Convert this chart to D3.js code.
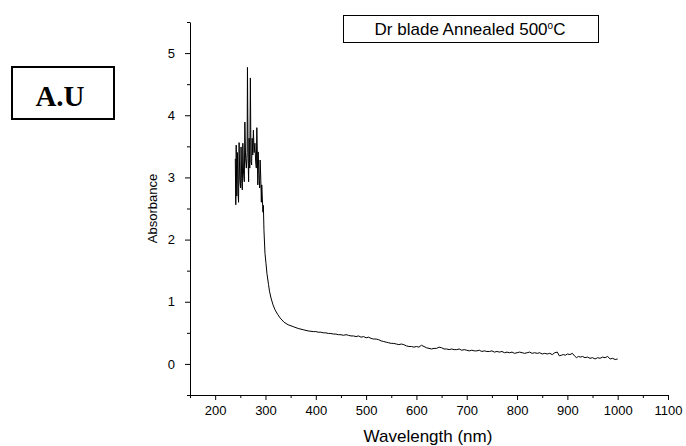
<!DOCTYPE html>
<html>
<head>
<meta charset="utf-8">
<script src="https://cdn.jsdelivr.net/npm/d3@7/dist/d3.min.js"></script>
<style>
  html, body { margin: 0; padding: 0; background: #fff; }
  svg { display: block; }
  text { font-family: "Liberation Sans", Arial, sans-serif; fill: #000; }
</style>
</head>
<body>
<svg id="chart" width="686" height="446"></svg>
<script>
// ---- data ----
const wavelength = [
  240,241,241.8,243,244.3,245.5,246.5,247.6,249,250.5,251.5,253,254,255,256.5,258,259,260.5,262,263.5,
  264.2,265.5,266.5,267.5,268.8,270,271.2,272.5,273.5,274.8,276,277.5,279,280.5,281.8,282.8,284,284.8,285.5,287,
  288.5,289.4,290.8,291.8,292.6,294,295,295.8,297,299,301,303,306,308,311,315,319,324,329,337,
  345,355,365,375,385,395,
  400,405,410,415,420,425,430,435,440,445,450,455,460,465,470,475,480,485,490,495,
  500,505,510,515,520,525,530,535,540,545,550,555,560,565,570,575,580,585,590,595,
  600,605,610,615,620,625,630,635,640,645,650,655,660,665,670,675,680,685,690,695,
  700,705,710,715,720,725,730,735,740,745,750,755,760,765,770,775,780,785,790,795,
  800,805,810,815,820,825,830,835,840,845,850,855,860,865,870,875,880,884,888,892,
  896,900,905,910,914,918,922,926,930,935,940,945,950,955,960,965,970,975,980,985,
  990,995,1000
];
const absorbance = [
  3.30,2.56,3.52,2.70,3.40,2.75,2.60,3.56,2.95,2.83,3.49,2.90,2.80,3.55,3.05,2.93,3.89,3.30,3.15,3.40,
  4.77,3.30,2.93,3.63,3.15,4.60,3.25,3.20,3.63,3.36,3.76,3.40,3.55,3.25,3.15,3.80,3.30,2.88,3.41,3.05,
  2.83,3.28,2.95,2.60,2.88,2.62,2.44,2.55,2.15,1.78,1.62,1.45,1.28,1.17,1.06,0.95,0.87,0.80,0.74,0.67,
  0.63,0.60,0.57,0.55,0.53,0.52,
  0.52,0.51,0.51,0.50,0.50,0.49,0.49,0.48,0.48,0.47,0.47,0.46,0.47,0.46,0.45,0.45,0.44,0.45,0.43,0.44,
  0.42,0.43,0.41,0.40,0.40,0.39,0.37,0.36,0.35,0.34,0.33,0.33,0.32,0.31,0.32,0.31,0.29,0.28,0.28,0.27,
  0.28,0.27,0.30,0.28,0.26,0.25,0.24,0.25,0.25,0.27,0.26,0.24,0.24,0.23,0.24,0.23,0.23,0.24,0.22,0.23,
  0.22,0.21,0.22,0.21,0.21,0.22,0.20,0.21,0.20,0.20,0.21,0.19,0.20,0.19,0.20,0.18,0.19,0.18,0.19,0.17,
  0.18,0.19,0.18,0.17,0.18,0.19,0.17,0.18,0.17,0.18,0.16,0.17,0.16,0.17,0.15,0.18,0.19,0.13,0.14,0.15,
  0.14,0.16,0.15,0.17,0.13,0.10,0.12,0.11,0.12,0.10,0.11,0.09,0.10,0.08,0.10,0.09,0.11,0.10,0.12,0.08,
  0.09,0.07,0.08
];
const xMajorTicks = [200,300,400,500,600,700,800,900,1000,1100];
const xMinorTicks = [150,250,350,450,550,650,750,850,950,1050];
const yMajorTicks = [0,1,2,3,4,5];
const yMinorTicks = [-0.5,0.5,1.5,2.5,3.5,4.5,5.5];
const xTitle = "Wavelength (nm)";
const yTitle = "Absorbance";
const legendText = "Dr blade Annealed 500";
const boxLabel = "A.U";

// ---- layout ----
const svg = d3.select("#chart");
const x = d3.scaleLinear().domain([150, 1100]).range([190, 668]);
const y = d3.scaleLinear().domain([-0.5, 5.5]).range([395, 22]);

// minor ticks
svg.append("g").attr("transform", `translate(0,${y(-0.5)})`)
  .call(d3.axisBottom(x).tickValues(xMinorTicks).tickSize(3).tickFormat(""))
  .call(g => g.select(".domain").remove());
svg.append("g").attr("transform", `translate(${x(150)},0)`)
  .call(d3.axisLeft(y).tickValues(yMinorTicks).tickSize(3).tickFormat(""))
  .call(g => g.select(".domain").remove());

// major axes
svg.append("g").attr("transform", `translate(0,${y(-0.5)})`)
  .call(d3.axisBottom(x).tickValues(xMajorTicks).tickSize(5).tickSizeOuter(0).tickPadding(6).tickFormat(d3.format("d")));
svg.append("g").attr("transform", `translate(${x(150)},0)`)
  .call(d3.axisLeft(y).tickValues(yMajorTicks).tickSize(5).tickSizeOuter(0).tickPadding(10).tickFormat(d3.format("d")));
svg.selectAll(".tick text").style("font-family", "'Liberation Sans', Arial, sans-serif").style("font-size", "13px");
svg.selectAll(".domain, .tick line").attr("stroke", "#000").attr("stroke-width", 1);

// line
const line = d3.line().x((d, i) => x(wavelength[i])).y(d => y(d));
svg.append("path").datum(absorbance)
  .attr("d", line).attr("fill", "none").attr("stroke", "#000").attr("stroke-width", 1);

// titles
svg.append("text").attr("x", 428).attr("y", 442).attr("text-anchor", "middle")
  .style("font-size", "17px").text(xTitle);
svg.append("text").attr("transform", `translate(157,${y(2.5)}) rotate(-90)`)
  .attr("text-anchor", "middle").style("font-size", "13px").text(yTitle);

// legend box
svg.append("rect").attr("x", 343.5).attr("y", 15.5).attr("width", 255).attr("height", 27)
  .attr("fill", "#fff").attr("stroke", "#000").attr("stroke-width", 1);
const lt = svg.append("text").attr("x", 470).attr("y", 35).attr("text-anchor", "middle")
  .style("font-size", "17px");
lt.append("tspan").text(legendText);
lt.append("tspan").attr("dy", -6).style("font-size", "10px").text("o");
lt.append("tspan").attr("dy", 6).text("C");

// A.U box
svg.append("rect").attr("x", 12).attr("y", 67).attr("width", 102).attr("height", 52)
  .attr("fill", "#fff").attr("stroke", "#000").attr("stroke-width", 2);
svg.append("text").attr("x", 60).attr("y", 106).attr("text-anchor", "middle")
  .style("font-family", "'Liberation Serif', 'Times New Roman', serif")
  .style("font-weight", "bold").style("font-size", "29px").text(boxLabel);
</script>
</body>
</html>
